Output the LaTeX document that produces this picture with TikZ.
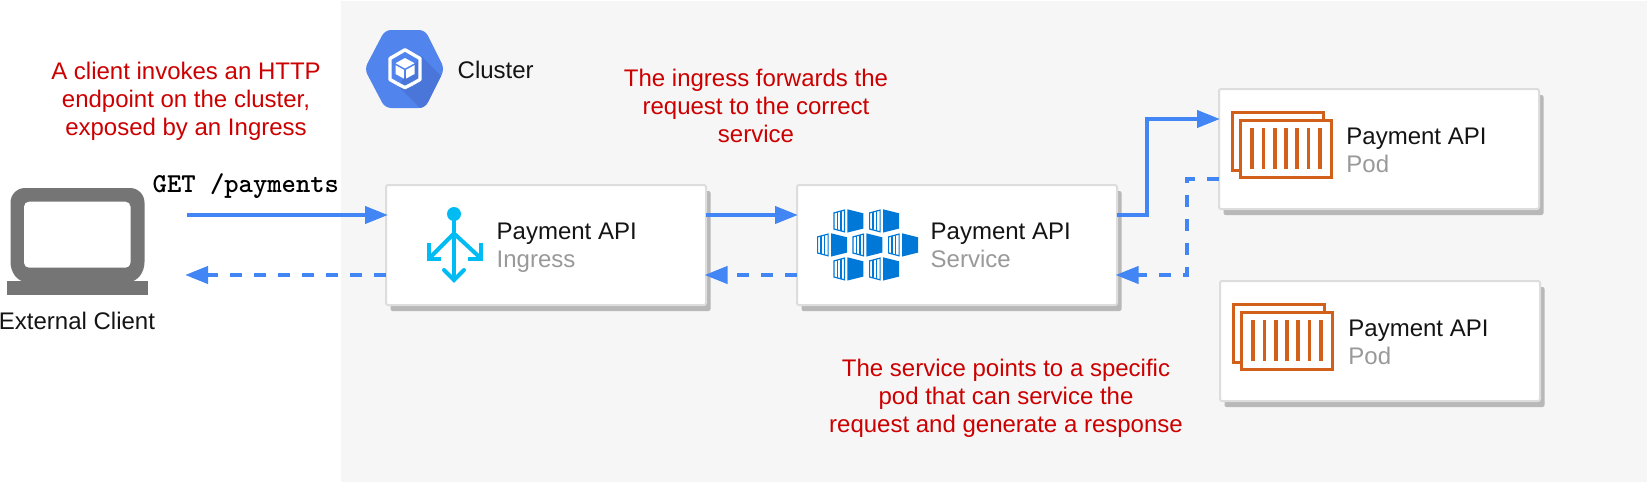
\documentclass[tikz,border=0pt]{standalone}
\usepackage{fontspec}
\setmainfont{Liberation Sans}
\usetikzlibrary{arrows.meta,shadows,shapes.geometric}
\definecolor{flowblue}{HTML}{4285F4}
\definecolor{redtext}{HTML}{CC0000}
\definecolor{bgpanel}{HTML}{F6F6F6}
\definecolor{boxline}{HTML}{DDDDDD}
\definecolor{shadowgrey}{HTML}{B8B8B8}
\definecolor{podorange}{HTML}{D2601A}
\definecolor{kubeblue}{HTML}{0078D7}
\definecolor{ingcyan}{HTML}{00BCF2}
\definecolor{hexblue}{HTML}{5184EC}
\definecolor{hexdark}{HTML}{4A76DA}
\definecolor{laptopgrey}{HTML}{757575}
\tikzset{
  cardbox/.style={draw=boxline,line width=2pt,fill=white,rounded corners=2pt,minimum width=320pt,minimum height=120pt,inner sep=0pt,outer sep=0pt,
    general shadow={shadow xshift=4.5pt,shadow yshift=-6pt,fill=shadowgrey}},
  titletext/.style={anchor=base west,inner sep=0pt,text=black!92,font=\fontsize{24}{28}\selectfont},
  subtext/.style={anchor=base west,inner sep=0pt,text=black!40,font=\fontsize{24}{28}\selectfont},
  notetext/.style={align=center,inner sep=0pt,text=redtext,font=\fontsize{24}{28}\selectfont},
  flow/.style={draw=flowblue,line width=4pt,-{Triangle[length=23pt,width=17pt,sep=0pt]}},
  flowback/.style={flow,dash pattern=on 12pt off 12pt},
  iconstroke/.style={draw=ingcyan,line width=4pt,line cap=round},
}
\newcommand{\kubeunit}[2]{%
  \begin{scope}[shift={(#1,#2)}]
    \filldraw[draw=kubeblue,fill=white,line width=1.2pt,line join=miter] (0.6,3.6) -- (11.1,0.8) -- (11.1,22.5) -- (0.6,19.7) -- cycle;
    \draw[kubeblue,line width=1.2pt] (4,3) -- (4,20.5) (7.6,2) -- (7.6,21.5);
    \fill[kubeblue] (14,0) -- (30,4) -- (30,19.3) -- (14,23.3) -- cycle;
  \end{scope}}
\newcommand{\podicon}[2]{%
  \begin{scope}[shift={(#1,#2)},draw=podorange,line width=3.3pt,line join=miter]
    \draw[podorange] (9.6,59.7) -- (1.6,59.7) -- (1.6,1.6) -- (92.4,1.6) -- (92.4,9.6);
    \draw[podorange] (9.6,9.6) rectangle (100.4,66.4);
    \foreach \sx in {21,32.3,43.7,54.7,66,77.3,89} {
      \draw[podorange,line width=3.6pt] (\sx,17.3) -- (\sx,58.3);
    }
  \end{scope}}
\begin{document}
\begin{tikzpicture}[x=1pt,y=-1pt]
\useasboundingbox (0,0) rectangle (1650,482);
\fill[bgpanel] (341,1) rectangle (1647,482);

% cluster icon
\begin{scope}
  \clip[rounded corners=6pt] (364.5,69) -- (385,30) -- (425,30) -- (444.5,69) -- (425,108) -- (385,108) -- cycle;
  \fill[hexblue] (360,25) rectangle (450,112);
  \fill[hexdark] (421,56) -- (450,85) -- (450,112) -- (424,112) -- (398,86) -- cycle;
\end{scope}
\draw[white,line width=3.4pt,line join=round] (397,83.5) -- (390,79.5) -- (390,58.5) -- (405,49.8) -- (420,58.5) -- (420,79.5) -- (413,83.5);
\draw[white,line width=3.4pt,line join=round] (397,83.5) -- (405,87.6) -- (413,83.5);
\fill[white] (405,58) -- (414.5,63.2) -- (405,68.4) -- (395.5,63.2) -- cycle;
\fill[white] (395.5,65.2) -- (403.8,69.8) -- (403.8,78.5) -- (395.5,74) -- cycle;
\fill[white] (414.5,65.2) -- (406.2,69.8) -- (406.2,78.5) -- (414.5,74) -- cycle;
\node[titletext] (clusterlabel) at (457.5,78.5) {Cluster};

% laptop
\filldraw[draw=none,fill=laptopgrey] (25,188) -- (130,188) arc[start angle=90,end angle=0,x radius=14.5,y radius=-14.5] -- (144.5,262)
  .. controls (144.5,272) and (138,282) .. (128,282) -- (27,282) .. controls (17,282) and (10.5,272) .. (10.5,262) -- (10.5,202.5) arc[start angle=180,end angle=90,x radius=14.5,y radius=-14.5] -- cycle;
\fill[white,rounded corners=5pt] (24,201.7) rectangle (130.5,267.7);
\fill[laptopgrey] (7,281) rectangle (147.5,295);
\node[anchor=base,inner sep=0pt,text=black!92,font=\fontsize{24}{28}\selectfont] (clientlabel) at (77,329.5) {External Client};

% notes
\node[notetext] (note1) at (186,101.5) {A client invokes an HTTP\\endpoint on the cluster,\\exposed by an Ingress};
\node[notetext] (note2) at (756,106) {The ingress forwards the\\request to the correct\\service};
\node[notetext] (note3) at (1006,398) {The service points to a specific\\pod that can service the\\request and generate a response};
\node[anchor=base west,inner sep=0pt,font=\ttfamily\bfseries\fontsize{27.3}{28}\selectfont,text=black] (getlabel) at (152.5,192) {GET /payments};

% cards
\node[cardbox] (ingress) at (546,245) {};
\node[cardbox] (service) at (957,245) {};
\node[cardbox] (podA) at (1379,149) {};
\node[cardbox] (podB) at (1380,341) {};

% card text
\node[titletext] (ingressT) at (496.5,239.5) {Payment API};
\node[subtext] (ingressS) at (496.5,267.5) {Ingress};
\node[titletext] (serviceT) at (930.5,239.5) {Payment API};
\node[subtext] (serviceS) at (930.5,267.5) {Service};
\node[titletext] (podAT) at (1346.2,144) {Payment API};
\node[subtext] (podAS) at (1346.2,172) {Pod};
\node[titletext] (podBT) at (1348.2,336) {Payment API};
\node[subtext] (podBS) at (1348.2,364) {Pod};

% ingress icon
\fill[ingcyan] (454,214) circle[radius=7];
\draw[iconstroke] (454,214) -- (454,280);
\draw[iconstroke,line cap=butt] (454,233.5) -- (429.5,258);
\draw[iconstroke,line cap=butt] (454,233.5) -- (480.5,258);
\draw[iconstroke,line cap=butt,line join=miter] (429,243) -- (429,259) -- (441,259);
\draw[iconstroke,line cap=butt,line join=miter] (480.5,243) -- (480.5,259) -- (467.5,259);
\draw[iconstroke,line join=miter] (444,270) -- (454,280) -- (464,270);

% service icon
\kubeunit{833.3}{209.3}
\kubeunit{869}{209.3}
\kubeunit{817}{233.3}
\kubeunit{852.3}{233.3}
\kubeunit{888}{233.3}
\kubeunit{833.3}{257.3}
\kubeunit{869}{257.3}

% pod icons
\podicon{1231}{111}
\podicon{1232}{303}

% connectors
\coordinate (clientOut) at (187,215);
\coordinate (clientIn) at (185,275);
\coordinate (bendUpA) at (1147,215);
\coordinate (bendUpB) at (1147,119);
\coordinate (bendDownA) at (1187,179);
\coordinate (bendDownB) at (1187,275);
\draw[flow] (clientOut) -- ([yshift=30pt,xshift=2pt]ingress.west);
\draw[flowback] (ingress.west |- clientIn) -- (clientIn);
\draw[flow] ([yshift=30pt]ingress.east) -- ([yshift=30pt,xshift=1pt]service.west);
\draw[flowback] ([yshift=-30pt]service.west) -- ([yshift=-30pt,xshift=-1.5pt]ingress.east);
\draw[flow] ([yshift=30pt]service.east) -- (bendUpA) -- (bendUpB) -- ([yshift=30pt,xshift=1pt]podA.west);
\draw[flowback] ([yshift=-30pt]podA.west) -- (bendDownA) -- (bendDownB) -- ([yshift=-30pt,xshift=-1.5pt]service.east);
\end{tikzpicture}
\end{document}
